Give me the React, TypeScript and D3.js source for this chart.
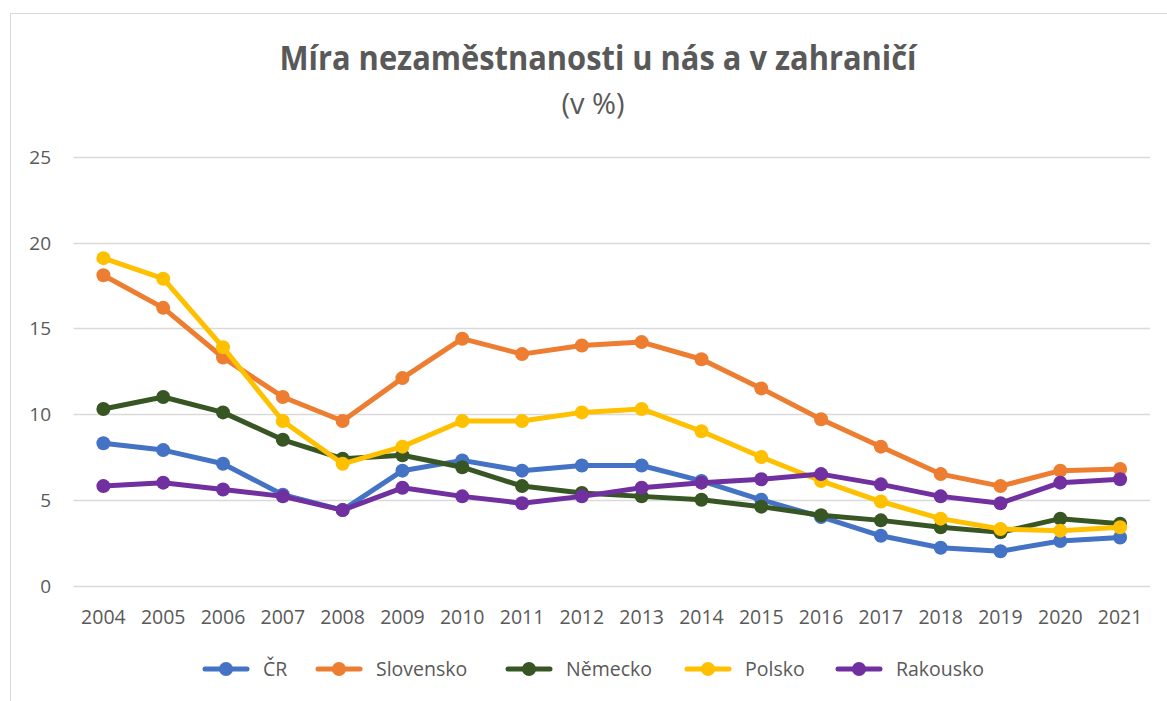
import React from "react";
import * as d3 from "d3";

const years = ["2004","2005","2006","2007","2008","2009","2010","2011","2012","2013","2014","2015","2016","2017","2018","2019","2020","2021"];
const cr = [8.3, 7.9, 7.1, 5.3, 4.4, 6.7, 7.3, 6.7, 7.0, 7.0, 6.1, 5.0, 4.0, 2.9, 2.2, 2.0, 2.6, 2.8];
const slovensko = [18.1, 16.2, 13.3, 11.0, 9.6, 12.1, 14.4, 13.5, 14.0, 14.2, 13.2, 11.5, 9.7, 8.1, 6.5, 5.8, 6.7, 6.8];
const nemecko = [10.3, 11.0, 10.1, 8.5, 7.4, 7.6, 6.9, 5.8, 5.4, 5.2, 5.0, 4.6, 4.1, 3.8, 3.4, 3.1, 3.9, 3.6];
const polsko = [19.1, 17.9, 13.9, 9.6, 7.1, 8.1, 9.6, 9.6, 10.1, 10.3, 9.0, 7.5, 6.1, 4.9, 3.9, 3.3, 3.2, 3.4];
const rakousko = [5.8, 6.0, 5.6, 5.2, 4.4, 5.7, 5.2, 4.8, 5.2, 5.7, 6.0, 6.2, 6.5, 5.9, 5.2, 4.8, 6.0, 6.2];
const seriesNames = ["ČR", "Slovensko", "Německo", "Polsko", "Rakousko"];
const seriesColors = ["#4472C4", "#ED7D31", "#375623", "#FFC000", "#7030A0"];
const yTicks = [0, 5, 10, 15, 20, 25];
const title = "Míra nezaměstnanosti u nás a v zahraničí";
const subtitle = "(v %)";

const seriesValues = [cr, slovensko, nemecko, polsko, rakousko];

export default function App() {
  const W = 1167, H = 701;
  const x = d3.scalePoint<string>().domain(years).range([73.5, 1150]).padding(0.5);
  const y = d3.scaleLinear().domain([0, 25]).range([585.5, 157]);
  const line = d3.line<number>().x((_, i) => x(years[i]) as number).y((d) => y(d));
  const font = "'Open Sans', 'Noto Sans', sans-serif";
  const txt = "#595959";
  const legendX = [205, 318, 508, 687, 838];
  return (
    <svg width={W} height={H} style={{ position: "absolute", left: 0, top: 0, background: "#fff" }} fontFamily={font}>
      <rect x={10.5} y={13.5} width={1170} height={700} fill="#fff" stroke="#d9d9d9" strokeWidth={1} />
      <text x={598} y={70} textAnchor="middle" fontSize={34} fontWeight={700} fill={txt} textLength={637} lengthAdjust="spacingAndGlyphs">{title}</text>
      <text x={593} y={114} textAnchor="middle" fontSize={29} fill={txt}>{subtitle}</text>
      {yTicks.map((t) => (
        <g key={t}>
          <line x1={73.5} x2={1150} y1={Math.round(y(t)) + 0.5} y2={Math.round(y(t)) + 0.5} stroke="#d9d9d9" strokeWidth={1.3} />
          <text x={51} y={y(t) + 7} textAnchor="end" fontSize={19} fill={txt}>{t}</text>
        </g>
      ))}
      {years.map((yr) => (
        <text key={yr} x={x(yr) as number} y={624} textAnchor="middle" fontSize={19.5} fill={txt}>{yr}</text>
      ))}
      {seriesValues.map((vals, si) => (
        <g key={si}>
          <path d={line(vals) || ""} fill="none" stroke={seriesColors[si]} strokeWidth={5} strokeLinejoin="round" strokeLinecap="round" />
          {vals.map((v, i) => (
            <circle key={i} cx={x(years[i]) as number} cy={y(v)} r={7} fill={seriesColors[si]} />
          ))}
        </g>
      ))}
      {seriesNames.map((n, i) => (
        <g key={n}>
          <line x1={legendX[i]} x2={legendX[i] + 42} y1={669} y2={669} stroke={seriesColors[i]} strokeWidth={5} strokeLinecap="round" />
          <circle cx={legendX[i] + 21} cy={669} r={7} fill={seriesColors[i]} />
          <text x={legendX[i] + 58} y={676} fontSize={19.5} fill={txt}>{n}</text>
        </g>
      ))}
    </svg>
  );
}
